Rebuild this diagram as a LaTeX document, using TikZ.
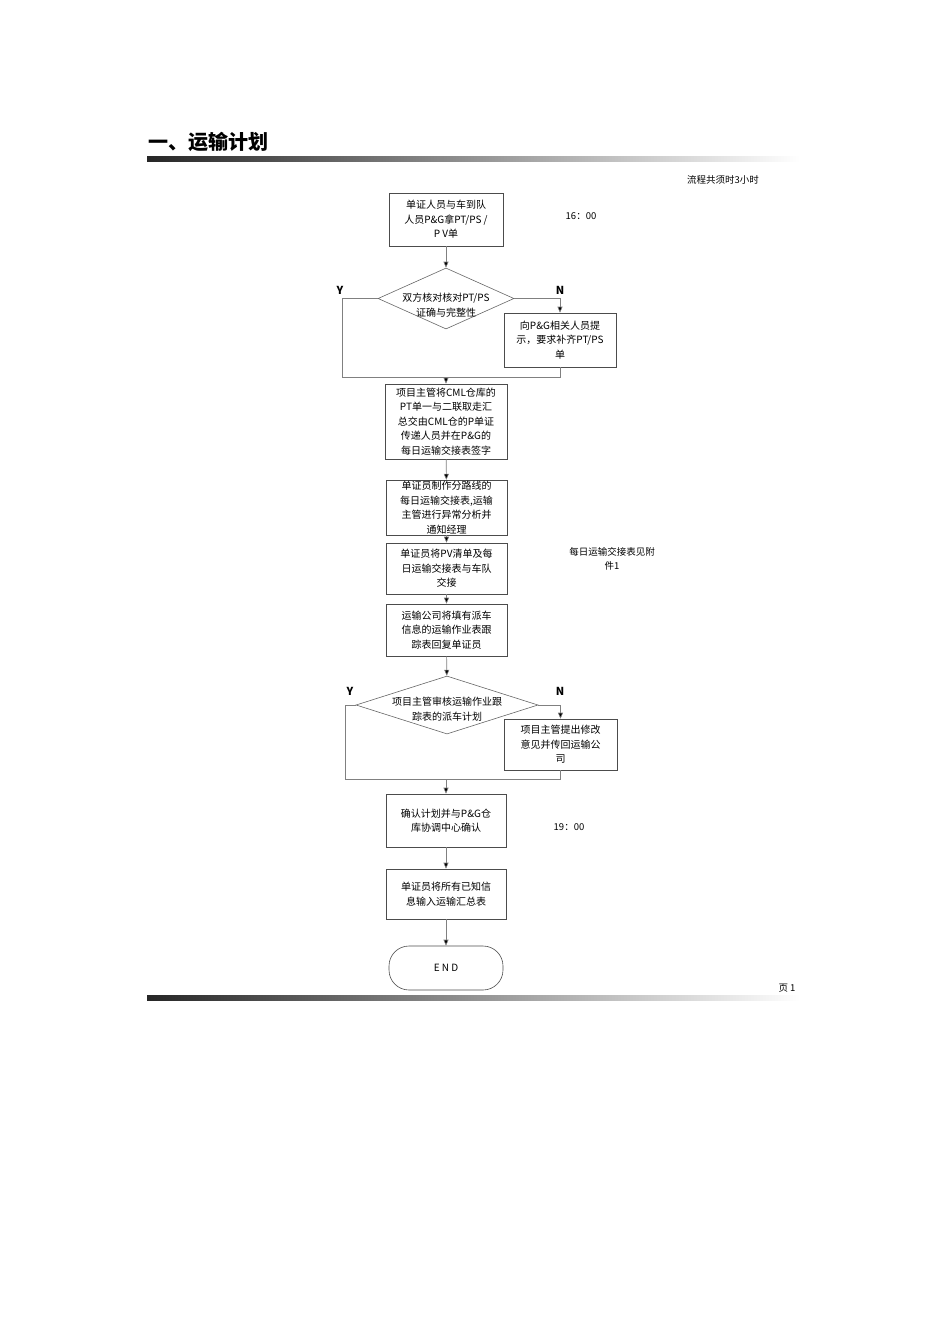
\documentclass[tikz,border=0pt]{standalone}
\usepackage{fontspec}
\setmainfont{Noto Sans CJK SC}
\usetikzlibrary{shapes.geometric,arrows.meta}
\begin{document}
\begin{tikzpicture}[x=1pt,y=-1pt,
  box/.style={draw=black!70,line width=0.6pt,align=center,font=\fontsize{10}{14.5}\selectfont,inner sep=1pt},
  dia/.style={draw=black!60,line width=0.6pt,diamond,aspect=2.3,align=center,font=\fontsize{10}{14.5}\selectfont,inner sep=0pt},
  ln/.style={draw=black!50,line width=0.6pt},
  ar/.style={ln,-{Triangle[length=6pt,width=5pt,fill=black]}},
  lbl/.style={font=\fontsize{9.5}{14}\selectfont},
  yn/.style={font=\bfseries\fontsize{11}{12}\selectfont}]
\useasboundingbox (0,0) rectangle (950,1344);
\node[anchor=west,font=\bfseries\fontsize{20}{22}\selectfont] (title) at (145,142) {一、运输计划};
\shade[left color=black!85,right color=white] (147,156) rectangle (800,161);
\shade[left color=black!85,right color=white] (147,995) rectangle (800,1000);
\node[lbl] (total) at (723,180) {流程共须时3小时};
\node[lbl] (page) at (787,988) {页 1};

\node[box,minimum width=114,minimum height=53] (b1) at (446,219.5) {单证人员与车到队\\人员P\&G拿PT/PS /\\P V单};
\node[lbl] (t1) at (581,216) {16：00};
\node[dia,minimum width=136,minimum height=61] (d1) at (446,298.5) {};
\node[box,draw=none,fill=none] (d1t) at (446,305) {双方核对核对PT/PS\\证确与完整性};
\node[yn] (y1) at (340,290) {Y};
\node[yn] (n1) at (560,290) {N};
\node[box,minimum width=112,minimum height=54] (nb1) at (560,340) {向P\&G相关人员提\\示，要求补齐PT/PS\\单};
\node[box,minimum width=122,minimum height=75] (b3) at (446,421.5) {项目主管将CML仓库的\\PT单一与二联取走汇\\总交由CML仓的P单证\\传递人员并在P\&G的\\每日运输交接表签字};
\node[box,minimum width=121,minimum height=53] (b4) at (446.5,507.5) {单证员制作分路线的\\每日运输交接表,运输\\主管进行异常分析并\\通知经理};
\node[box,minimum width=121,minimum height=51] (b5) at (446.5,568.5) {单证员将PV清单及每\\日运输交接表与车队\\交接};
\node[lbl,align=center] (t2) at (612,559) {每日运输交接表见附\\件1};
\node[box,minimum width=121,minimum height=52] (b6) at (446.5,630) {运输公司将填有派车\\信息的运输作业表跟\\踪表回复单证员};
\node[dia,minimum width=182,minimum height=58] (d2) at (447,705) {};
\node[box,draw=none] (d2t) at (447,709) {项目主管审核运输作业跟\\踪表的派车计划};
\node[yn] (y2) at (350,691) {Y};
\node[yn] (n2) at (560,691) {N};
\node[box,minimum width=113,minimum height=51] (nb2) at (560.5,744.5) {项目主管提出修改\\意见并传回运输公\\司};
\node[box,minimum width=120,minimum height=53] (b7) at (446,820.5) {确认计划并与P\&G仓\\库协调中心确认};
\node[lbl] (t3) at (569,827) {19：00};
\node[box,minimum width=120,minimum height=50] (b8) at (446,894) {单证员将所有已知信\\息输入运输汇总表};
\node[box,rounded corners=20pt,minimum width=114,minimum height=44] (end) at (446,968) {E N D};

\coordinate (j1) at (446,377);
\coordinate (j2) at (446,779);
\draw[ar] (b1) -- (d1);
\draw[ln] (d1.west) -- (342,298.5) |- (j1);
\draw[ar] (d1.east) -| (nb1.north);
\draw[ln] (nb1.south) |- (j1);
\draw[ar] (j1) -- (b3);
\draw[ar] (b3) -- (b4);
\draw[ar] (b4) -- (b5);
\draw[ar] (b5) -- (b6);
\draw[ar] (b6) -- (d2);
\draw[ln] (d2.west) -- (345,705) |- (j2);
\draw[ar] (d2.east) -| (nb2.north);
\draw[ln] (nb2.south) |- (j2);
\draw[ar] (j2) -- (b7);
\draw[ar] (b7) -- (b8);
\draw[ar] (b8) -- (end);
\end{tikzpicture}
\end{document}
